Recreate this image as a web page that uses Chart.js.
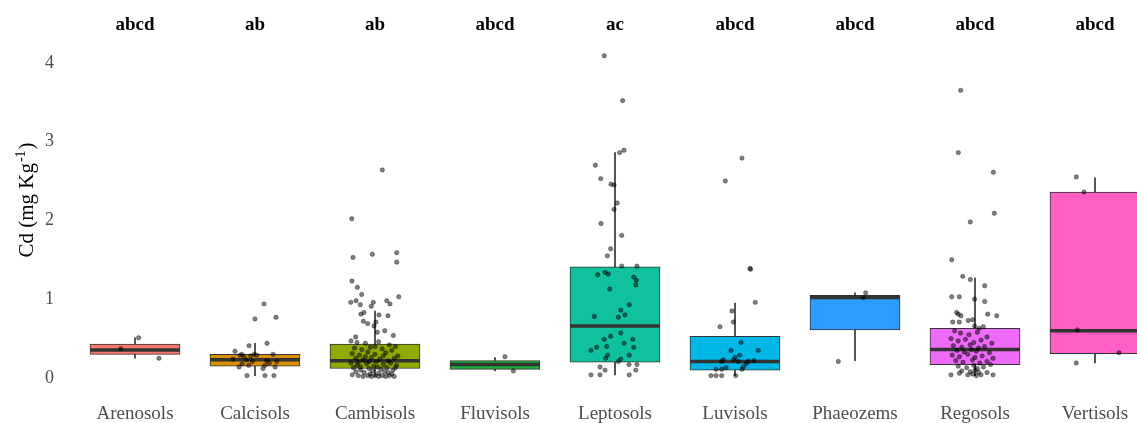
<!DOCTYPE html>
<html>
<head>
<meta charset="utf-8">
<script src="https://cdn.jsdelivr.net/npm/chart.js@4.4.1/dist/chart.umd.min.js"></script>
<style>
  html, body { margin: 0; padding: 0; background: #fff; overflow: hidden; }
  canvas { display: block; }
</style>
</head>
<body>
<canvas id="chart" width="1137" height="423"></canvas>
<script>
const soils = ['Arenosols', 'Calcisols', 'Cambisols', 'Fluvisols', 'Leptosols', 'Luvisols', 'Phaeozems', 'Regosols', 'Vertisols'];
const groupLetters = ['abcd', 'ab', 'ab', 'abcd', 'ac', 'abcd', 'abcd', 'abcd', 'abcd'];
const boxColors = ['#F8766D', '#D89000', '#8FAA00', '#1CAE3A', '#10C19E', '#00B6E6', '#2E9BFF', '#EE6AF8', '#FF5FC2'];

// box statistics, mg/kg
const whiskerLow = [0.25, 0.03, 0.02, 0.09, 0.04, 0.03, 0.22, 0.03, 0.19];
const q1 = [0.30, 0.15, 0.12, 0.11, 0.20, 0.10, 0.61, 0.17, 0.31];
const medians = [0.355, 0.23, 0.22, 0.17, 0.66, 0.21, 1.02, 0.36, 0.60];
const q3 = [0.43, 0.30, 0.43, 0.22, 1.41, 0.53, 1.05, 0.63, 2.36];
const whiskerHigh = [0.51, 0.44, 0.85, 0.26, 2.86, 0.95, 1.08, 1.27, 2.54];

// jittered samples [x position on category axis, Cd]
const arenosolsPts = [[-0.12, 0.37], [0.03, 0.51], [0.2, 0.25]];
const calcisolsPts = [
  [1.075, 0.94], [1.0, 0.75], [1.175, 0.77], [0.833, 0.34], [0.95, 0.41], [1.1, 0.44], [0.892, 0.30],
  [1.15, 0.30], [0.817, 0.24], [0.867, 0.14], [0.933, 0.03], [1.083, 0.03], [1.158, 0.03], [1.067, 0.12],
  [1.167, 0.14], [0.875, 0.29], [0.908, 0.27], [0.964, 0.28], [0.992, 0.30], [1.014, 0.29], [0.931, 0.23],
  [0.978, 0.21], [0.894, 0.18], [1.098, 0.22], [1.119, 0.19], [1.083, 0.16], [0.948, 0.16], [1.181, 0.21]
];
const cambisolsPts = [
  [2.061, 2.64], [1.806, 2.02], [1.817, 1.53], [1.978, 1.57], [2.181, 1.59], [2.181, 1.47], [1.808, 1.23],
  [1.853, 1.15], [1.889, 1.06], [2.198, 1.03], [1.798, 0.96], [1.842, 0.98], [1.878, 0.93], [1.986, 0.96],
  [1.969, 0.91], [2.098, 0.98], [2.125, 0.94], [1.883, 0.81], [1.908, 0.83], [2.033, 0.80], [2.108, 0.79],
  [1.903, 0.72], [1.939, 0.69], [2.008, 0.71], [1.992, 0.66], [2.019, 0.58], [2.081, 0.60], [1.839, 0.52],
  [2.153, 0.54],
  [1.80, 0.47], [1.85, 0.45], [1.92, 0.44], [2.03, 0.46], [2.12, 0.42], [2.17, 0.40], [1.83, 0.38],
  [1.89, 0.36], [1.96, 0.39], [2.06, 0.37], [2.14, 0.35], [1.81, 0.31], [1.87, 0.29], [1.94, 0.33],
  [2.00, 0.30], [2.09, 0.32], [2.19, 0.28], [1.84, 0.25], [1.90, 0.23], [1.97, 0.26], [2.04, 0.24],
  [2.11, 0.22], [2.16, 0.25], [1.80, 0.19], [1.86, 0.20], [1.93, 0.18], [2.01, 0.21], [2.07, 0.17],
  [2.13, 0.19], [2.18, 0.16], [1.82, 0.13], [1.88, 0.14], [1.95, 0.12], [1.99, 0.15], [2.05, 0.11],
  [2.10, 0.13], [2.15, 0.10], [1.84, 0.08], [1.91, 0.07], [1.98, 0.09], [2.03, 0.06], [2.08, 0.08],
  [2.14, 0.05], [1.81, 0.04], [1.86, 0.03], [1.90, 0.02], [1.94, 0.03], [1.97, 0.02], [2.00, 0.03],
  [2.03, 0.02], [2.06, 0.03], [2.09, 0.02], [2.12, 0.03], [2.16, 0.02], [1.88, 0.10], [1.96, 0.05],
  [2.02, 0.14], [2.11, 0.07], [1.85, 0.16], [2.07, 0.28], [1.92, 0.27], [2.00, 0.40], [1.95, 0.21],
  [2.17, 0.13]
];
const fluvisolsPts = [[3.083, 0.27], [3.153, 0.09]];
const leptosolsPts = [
  [3.911, 4.09], [4.064, 3.52], [4.039, 2.86], [4.075, 2.89], [3.836, 2.70], [3.881, 2.53], [3.967, 2.46],
  [3.992, 2.45], [4.019, 2.22], [3.992, 2.14], [3.883, 1.96], [4.056, 1.81], [3.964, 1.64], [3.936, 1.55],
  [4.056, 1.42], [4.183, 1.42], [3.856, 1.31], [3.917, 1.34], [3.944, 1.32], [4.156, 1.28], [4.178, 1.24],
  [4.173, 1.18], [3.956, 1.13], [4.119, 0.93], [4.048, 0.86], [4.083, 0.80], [4.028, 0.77], [3.828, 0.78],
  [4.048, 0.57], [3.964, 0.53], [3.911, 0.49], [4.148, 0.49], [3.847, 0.39], [3.8, 0.35], [3.931, 0.40],
  [4.075, 0.44], [4.156, 0.39], [3.939, 0.29], [3.922, 0.25], [4.119, 0.29], [4.048, 0.24], [4.028, 0.21],
  [4.117, 0.17], [4.183, 0.17], [3.875, 0.14], [3.917, 0.10], [4.173, 0.10], [3.8, 0.04], [3.875, 0.04],
  [4.119, 0.04]
];
const luvisolsPts = [
  [5.058, 2.79], [4.919, 2.50], [5.125, 1.39], [5.13, 1.38], [5.169, 0.96], [4.975, 0.85], [4.986, 0.71],
  [4.875, 0.65], [5.05, 0.45], [4.967, 0.35], [5.194, 0.35], [5.039, 0.29], [5.0, 0.26], [4.986, 0.23],
  [4.903, 0.23], [4.889, 0.21], [5.028, 0.21], [5.111, 0.21], [5.158, 0.22], [5.092, 0.18], [5.069, 0.14],
  [4.842, 0.11], [4.889, 0.11], [4.925, 0.13], [5.058, 0.11], [4.8, 0.03], [4.842, 0.03], [4.889, 0.03],
  [5.006, 0.03]
];
const phaeozemsPts = [[6.089, 1.08], [6.069, 1.02], [5.861, 0.21]];
const regosolsPts = [
  [6.881, 3.65], [6.861, 2.86], [7.153, 2.61], [7.161, 2.09], [6.961, 1.98], [6.806, 1.50], [6.898, 1.29],
  [6.961, 1.25], [7.081, 1.17], [6.806, 1.03], [6.869, 1.03], [6.997, 1.00], [7.081, 0.97], [6.847, 0.83],
  [6.861, 0.81], [6.883, 0.79], [6.814, 0.71], [6.869, 0.71], [6.944, 0.73], [6.981, 0.74], [7.106, 0.81],
  [7.181, 0.79], [6.997, 0.66], [7.033, 0.63], [7.069, 0.65],
  [6.83, 0.60], [6.88, 0.57], [6.95, 0.55], [7.02, 0.58], [7.10, 0.52], [6.80, 0.50], [6.86, 0.47],
  [6.92, 0.49], [6.99, 0.45], [7.05, 0.48], [7.14, 0.44], [6.82, 0.41], [6.89, 0.39], [6.96, 0.42],
  [7.03, 0.38], [7.08, 0.40], [6.85, 0.35], [6.91, 0.33], [6.97, 0.36], [7.01, 0.34], [7.12, 0.32],
  [6.81, 0.29], [6.87, 0.27], [6.94, 0.30], [7.00, 0.26], [7.06, 0.28], [7.15, 0.25], [6.84, 0.22],
  [6.90, 0.20], [6.98, 0.23], [7.04, 0.19], [7.10, 0.21], [6.86, 0.15], [6.93, 0.13], [6.99, 0.16],
  [7.02, 0.12], [7.07, 0.14], [7.13, 0.17], [6.89, 0.09], [6.96, 0.08], [7.00, 0.10], [7.03, 0.07],
  [6.94, 0.04], [6.98, 0.05], [7.01, 0.03], [7.05, 0.04], [6.80, 0.04], [7.15, 0.04], [6.87, 0.06],
  [7.10, 0.07]
];
const vertisolsPts = [[7.844, 2.55], [7.908, 2.36], [7.853, 0.61], [8.2, 0.32], [7.844, 0.19]];

const yMin = -0.216;
const yMax = 4.289;
const xMin = -0.5;
const xMax = 8.35;

const allPoints = [arenosolsPts, calcisolsPts, cambisolsPts, fluvisolsPts, leptosolsPts,
  luvisolsPts, phaeozemsPts, regosolsPts, vertisolsPts]
  .flat()
  .map(([x, y]) => ({ x, y }));

const serif = '"Liberation Serif", "Times New Roman", serif';
const tickGrey = '#4d4d4d';
const lineDark = '#333333';

// fixed axis sizes, no extra room for overhanging labels
function fixSize(size) {
  return (scale) => {
    if (scale.isHorizontal()) {
      scale.height = size;
    } else {
      scale.width = size;
    }
    scale.paddingLeft = 0;
    scale.paddingRight = 0;
    scale.paddingTop = 0;
    scale.paddingBottom = 0;
  };
}

const yTitle = {
  id: 'yTitle',
  afterDraw(chart) {
    const ctx = chart.ctx;
    const mainFont = '21px ' + serif;
    const supFont = '14px ' + serif;
    ctx.save();
    ctx.font = mainFont;
    const w1 = ctx.measureText('Cd (mg Kg').width;
    const w3 = ctx.measureText(')').width;
    ctx.font = supFont;
    const w2 = ctx.measureText('-1').width + 2;
    const total = w1 + w2 + w3;
    ctx.translate(33, 200);
    ctx.rotate(-Math.PI / 2);
    ctx.fillStyle = '#000';
    ctx.textBaseline = 'alphabetic';
    ctx.textAlign = 'left';
    let x = -total / 2;
    ctx.font = mainFont;
    ctx.fillText('Cd (mg Kg', x, 0);
    x += w1 + 1;
    ctx.font = supFont;
    ctx.fillText('-1', x, -8);
    x += w2 - 1;
    ctx.font = mainFont;
    ctx.fillText(')', x, 0);
    ctx.restore();
  }
};

new Chart(document.getElementById('chart'), {
  type: 'bar',
  data: {
    datasets: [
      {
        type: 'scatter',
        data: allPoints,
        xAxisID: 'x',
        yAxisID: 'y',
        order: 0,
        pointRadius: 2.2,
        pointBackgroundColor: 'rgba(0,0,0,0.5)',
        pointBorderColor: 'rgba(0,0,0,0.55)',
        pointBorderWidth: 0.6
      },
      {
        type: 'scatter',
        data: medians.map((m, i) => ({ x: i, y: m })),
        xAxisID: 'x',
        yAxisID: 'y',
        order: 1,
        pointStyle: 'line',
        pointRadius: 45,
        pointBorderColor: lineDark,
        pointBorderWidth: 3.5
      },
      {
        type: 'bar',
        data: q1.map((v, i) => ({ x: i, y: [v, q3[i]] })),
        xAxisID: 'x',
        yAxisID: 'y',
        order: 2,
        grouped: false,
        barThickness: 90,
        backgroundColor: boxColors,
        borderColor: lineDark,
        borderWidth: 1,
        borderSkipped: false
      },
      {
        type: 'bar',
        data: q3.map((v, i) => ({ x: i, y: [v, whiskerHigh[i]] })),
        xAxisID: 'x',
        yAxisID: 'y',
        order: 3,
        grouped: false,
        barThickness: 1,
        backgroundColor: lineDark,
        borderWidth: 0
      },
      {
        type: 'bar',
        data: q1.map((v, i) => ({ x: i, y: [whiskerLow[i], v] })),
        xAxisID: 'x',
        yAxisID: 'y',
        order: 3,
        grouped: false,
        barThickness: 1,
        backgroundColor: lineDark,
        borderWidth: 0
      }
    ]
  },
  options: {
    responsive: false,
    animation: false,
    events: [],
    devicePixelRatio: 1,
    layout: { padding: 0, autoPadding: false },
    plugins: {
      legend: { display: false },
      tooltip: { enabled: false }
    },
    scales: {
      x: {
        type: 'linear',
        position: 'bottom',
        offset: false,
        min: xMin,
        max: xMax,
        grid: { display: false, drawTicks: false, offset: false },
        border: { display: false },
        afterFit: fixSize(28),
        ticks: {
          stepSize: 1,
          includeBounds: false,
          autoSkip: false,
          maxRotation: 0,
          padding: 8,
          color: tickGrey,
          font: { family: serif, size: 19 },
          callback: (v) => soils[v] ?? ''
        }
      },
      xTop: {
        type: 'linear',
        axis: 'x',
        position: 'top',
        offset: false,
        min: xMin,
        max: xMax,
        grid: { display: false, drawTicks: false, offset: false },
        border: { display: false },
        afterFit: fixSize(40),
        ticks: {
          stepSize: 1,
          includeBounds: false,
          autoSkip: false,
          maxRotation: 0,
          padding: 4,
          color: '#000',
          font: { family: serif, size: 19, weight: 'bold' },
          callback: (v) => groupLetters[v] ?? ''
        }
      },
      y: {
        type: 'linear',
        min: yMin,
        max: yMax,
        grid: { display: false, drawTicks: false },
        border: { display: false },
        afterFit: fixSize(75),
        ticks: {
          stepSize: 1,
          includeBounds: false,
          padding: 21,
          color: tickGrey,
          font: { family: serif, size: 18 }
        }
      }
    }
  },
  plugins: [yTitle]
});
</script>
</body>
</html>
